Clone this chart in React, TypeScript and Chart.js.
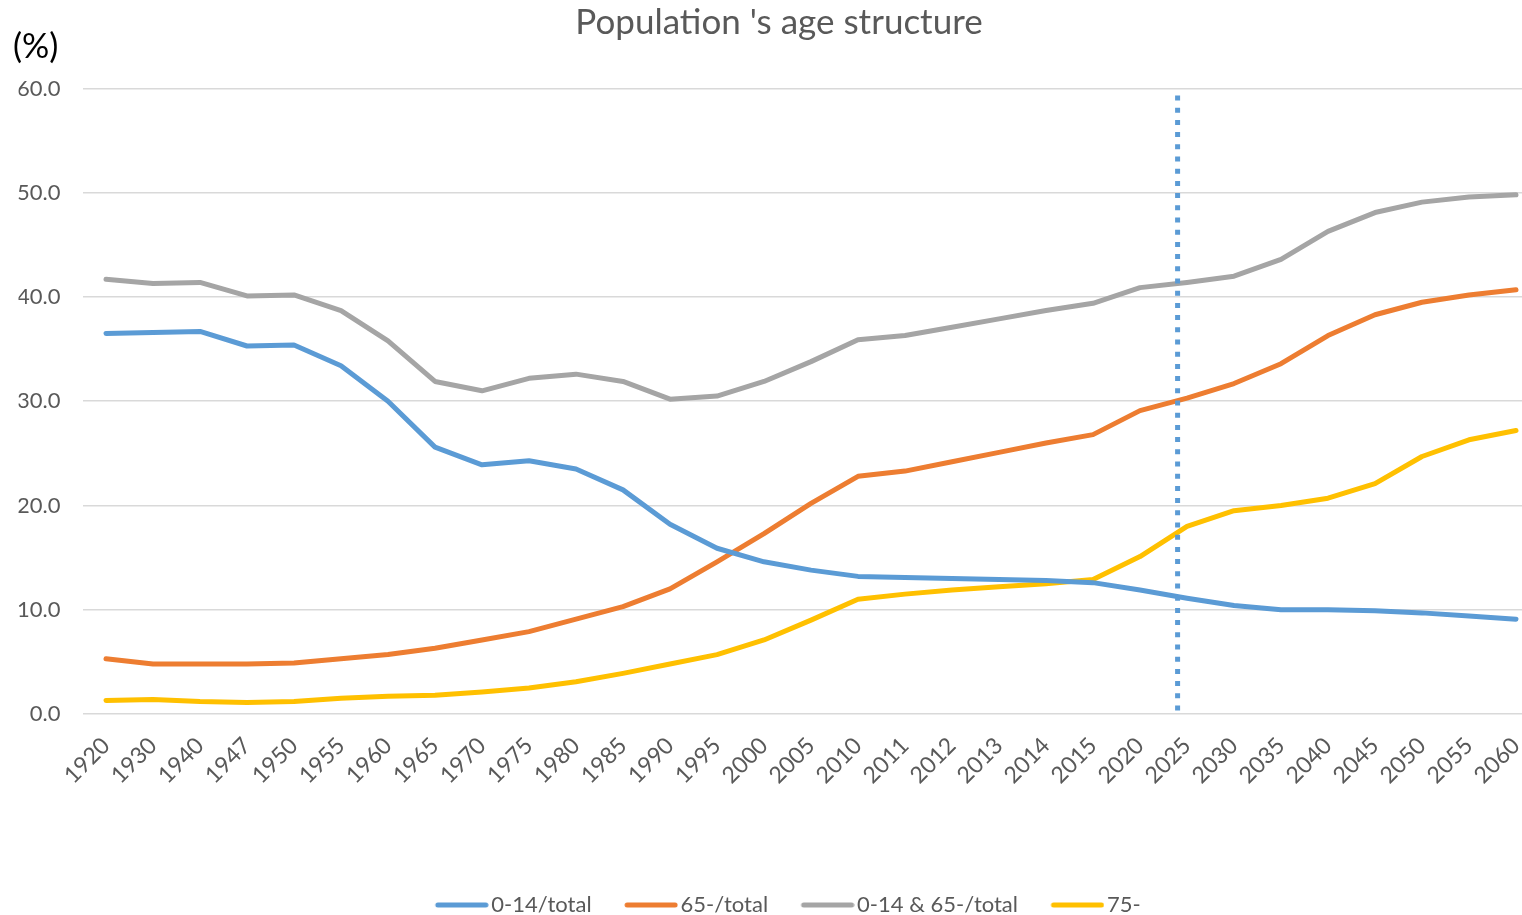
import React, { useEffect, useRef } from "react";
import { Chart, registerables } from "chart.js";

Chart.register(...registerables);

const years = [
  "1920", "1930", "1940", "1947", "1950", "1955", "1960", "1965", "1970", "1975",
  "1980", "1985", "1990", "1995", "2000", "2005", "2010", "2011", "2012", "2013",
  "2014", "2015", "2020", "2025", "2030", "2035", "2040", "2045", "2050", "2055", "2060",
];

const young = [
  36.5, 36.6, 36.7, 35.3, 35.4, 33.4, 30.0, 25.6, 23.9, 24.3,
  23.5, 21.5, 18.2, 15.9, 14.6, 13.8, 13.2, 13.1, 13.0, 12.9,
  12.8, 12.6, 11.9, 11.1, 10.4, 10.0, 10.0, 9.9, 9.7, 9.4, 9.1,
];

const elderly = [
  5.3, 4.8, 4.8, 4.8, 4.9, 5.3, 5.7, 6.3, 7.1, 7.9,
  9.1, 10.3, 12.0, 14.6, 17.3, 20.2, 22.8, 23.3, 24.2, 25.1,
  26.0, 26.8, 29.1, 30.3, 31.7, 33.6, 36.3, 38.3, 39.5, 40.2, 40.7,
];

const dependent = [
  41.7, 41.3, 41.4, 40.1, 40.2, 38.7, 35.8, 31.9, 31.0, 32.2,
  32.6, 31.9, 30.2, 30.5, 31.9, 33.8, 35.9, 36.3, 37.1, 37.9,
  38.7, 39.4, 40.9, 41.4, 42.0, 43.6, 46.3, 48.1, 49.1, 49.6, 49.8,
];

const old75 = [
  1.3, 1.4, 1.2, 1.1, 1.2, 1.5, 1.7, 1.8, 2.1, 2.5,
  3.1, 3.9, 4.8, 5.7, 7.1, 9.0, 11.0, 11.5, 11.9, 12.2,
  12.5, 12.9, 15.1, 18.0, 19.5, 20.0, 20.7, 22.1, 24.7, 26.3, 27.2,
];

const seriesNames = ["0-14/total", "65-/total", "0-14 & 65-/total", "75-"];
const seriesColors = ["#5B9BD5", "#ED7D31", "#A5A5A5", "#FFC000"];

const yMin = 0;
const yMax = 60;
const yStep = 10;

// Position of the dotted divider, in category-index units (between 2020 and 2025)
const dividerIndex = 22.8;

const FONT = "Lato, 'Open Sans', sans-serif";
const LEGEND_BOX = 45;

function makeLegendSwatch(color: string): HTMLCanvasElement {
  const c = document.createElement("canvas");
  c.width = 62;
  c.height = 8;
  const g = c.getContext("2d")!;
  g.strokeStyle = color;
  g.lineWidth = 5;
  g.lineCap = "round";
  g.beginPath();
  g.moveTo(11, 4);
  g.lineTo(59, 4);
  g.stroke();
  return c;
}

export default function App() {
  const canvasRef = useRef<HTMLCanvasElement | null>(null);

  useEffect(() => {
    const canvas = canvasRef.current;
    if (!canvas) return;

    const swatches = seriesColors.map(makeLegendSwatch);

    const dividerPlugin = {
      id: "divider",
      afterDatasetsDraw(chart: any) {
        const { ctx, scales, chartArea } = chart;
        const px = scales.x.getPixelForValue(dividerIndex);
        ctx.save();
        ctx.strokeStyle = "#5B9BD5";
        ctx.lineWidth = 5;
        ctx.setLineDash([5, 7.2]);
        ctx.beginPath();
        ctx.moveTo(px, chartArea.top + 7);
        ctx.lineTo(px, chartArea.bottom + 3);
        ctx.stroke();
        ctx.restore();
      },
    };

    const unitPlugin = {
      id: "unitLabel",
      afterDraw(chart: any) {
        const { ctx, chartArea } = chart;
        ctx.save();
        ctx.fillStyle = "#000000";
        ctx.font = `34px ${FONT}`;
        ctx.textAlign = "left";
        ctx.textBaseline = "middle";
        ctx.fillText("(%)", 13, chartArea.top - 41);
        ctx.restore();
      },
    };

    const legendShiftPlugin = {
      id: "legendShift",
      afterLayout(chart: any) {
        if (chart.legend) {
          chart.legend.left += 9;
          chart.legend.right += 9;
        }
      },
    };

    const datasets = [young, elderly, dependent, old75].map((data, i) => ({
      label: seriesNames[i],
      data,
      borderColor: seriesColors[i],
      backgroundColor: seriesColors[i],
      borderWidth: 5,
      borderCapStyle: "round" as const,
      borderJoinStyle: "round" as const,
      pointRadius: 0,
      pointHoverRadius: 0,
      tension: 0,
      fill: false,
    }));

    const chart = new Chart(canvas, {
      type: "line",
      data: { labels: years, datasets },
      options: {
        animation: false,
        responsive: false,
        maintainAspectRatio: false,
        devicePixelRatio: 1,
        layout: { padding: { left: 18.5, right: 28.5, top: 0, bottom: 0 } },
        plugins: {
          title: {
            display: true,
            text: "Population 's age structure",
            color: "#595959",
            font: { family: FONT, size: 35, weight: "normal" },
            padding: { top: 1.5, bottom: 45 },
          },
          legend: {
            display: true,
            position: "bottom",
            labels: {
              usePointStyle: true,
              pointStyleWidth: LEGEND_BOX,
              color: "#595959",
              font: { family: FONT, size: 22 },
              padding: 33,
              generateLabels(chart: any) {
                return chart.data.datasets.map((ds: any, i: number) => ({
                  text: ds.label,
                  fontColor: "#595959",
                  fillStyle: seriesColors[i],
                  strokeStyle: seriesColors[i],
                  lineWidth: 0,
                  pointStyle: swatches[i],
                  hidden: false,
                  datasetIndex: i,
                }));
              },
            },
          },
          tooltip: { enabled: false },
        },
        scales: {
          x: {
            type: "category",
            offset: true,
            grid: { display: false },
            border: { display: false },
            ticks: {
              color: "#595959",
              font: { family: FONT, size: 23 },
              minRotation: 45,
              maxRotation: 45,
              autoSkip: false,
              padding: 10,
            },
            afterFit(scale: any) {
              scale.height = 147;
              scale.paddingLeft = 0;
              scale.paddingRight = 0;
            },
          },
          y: {
            min: yMin,
            max: yMax,
            border: { display: false },
            grid: { color: "#D9D9D9", lineWidth: 1.6, drawTicks: false },
            ticks: {
              stepSize: yStep,
              color: "#595959",
              font: { family: FONT, size: 22 },
              padding: 22,
              callback: (v: any) => Number(v).toFixed(1),
            },
            afterFit(scale: any) {
              scale.width = 64;
            },
          },
        },
      },
      plugins: [dividerPlugin, unitPlugin, legendShiftPlugin],
    });

    return () => chart.destroy();
  }, []);

  return (
    <div
      style={{
        position: "fixed",
        left: 0,
        top: 0,
        width: "1522px",
        height: "915px",
        overflow: "hidden",
        background: "#ffffff",
      }}
    >
      <canvas
        ref={canvasRef}
        width={1568}
        height={926}
        style={{ width: "1568px", height: "926px", display: "block" }}
      />
    </div>
  );
}
